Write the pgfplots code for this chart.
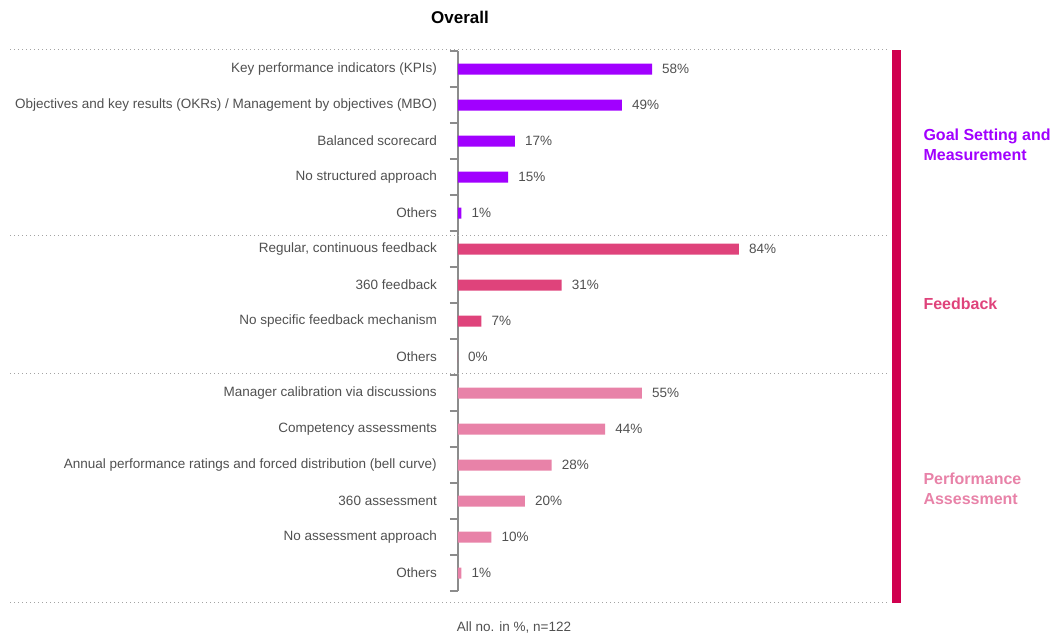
\documentclass[border=0pt]{standalone}
\usepackage{pgfplots}
\pgfplotsset{compat=1.18}
\usepackage{fontspec}
\setmainfont{Liberation Sans}
\definecolor{cpurple}{HTML}{A100FF}
\definecolor{cfeed}{HTML}{DF437B}
\definecolor{cperf}{HTML}{E882A8}
\definecolor{cred}{HTML}{D0004F}
\definecolor{ctext}{HTML}{505050}
\definecolor{caxis}{HTML}{8C8C8C}
\begin{document}
\begin{tikzpicture}
\path[use as bounding box] (0,0) rectangle (1061pt,634pt);
\begin{axis}[
  at={(458pt,43pt)}, anchor=south west,
  scale only axis, width=434.85pt, height=540pt,
  xmin=0, xmax=130, ymin=-0.5, ymax=14.5,
  y dir=reverse,
  axis x line=none, axis y line*=left,
  axis line style={caxis, line width=1.8pt},
  xbar, bar width=11pt, bar shift=0pt,
  clip=false,
  ytick={0,...,14},
  yticklabels={Key performance indicators (KPIs),
    Objectives and key results (OKRs) / Management by objectives (MBO),
    Balanced scorecard, No structured approach, Others,
    {Regular, continuous feedback}, 360 feedback, No specific feedback mechanism, Others,
    Manager calibration via discussions, Competency assessments,
    Annual performance ratings and forced distribution (bell curve),
    360 assessment, No assessment approach, Others},
  minor ytick={-0.5,0.5,...,14.5},
  tick align=outside,
  major tick length=0pt, minor tick length=8pt,
  minor tick style={caxis, line width=1.8pt},
  yticklabel style={text=ctext, font=\fontsize{13.5}{16}\selectfont, anchor=east, inner sep=0pt, xshift=-21pt},
  point meta=x,
  nodes near coords={\pgfmathprintnumber[assume math mode=true]{\pgfplotspointmeta}\%},
  nodes near coords style={anchor=west, inner sep=0pt, xshift=10pt, text=ctext, font=\fontsize{13.5}{16}\selectfont},
]
\addplot[draw=none, fill=cpurple] coordinates {(58,0) (49,1) (17,2) (15,3) (1,4)};
\addplot[draw=none, fill=cfeed] coordinates {(84,5) (31,6) (7,7) (0,8)};
\addplot[draw=none, fill=cperf] coordinates {(55,9) (44,10) (28,11) (20,12) (10,13) (1,14)};
\end{axis}
\foreach \yy in {584,398,260,31}{
  \draw[caxis!80, line width=1pt, dash pattern=on 1pt off 3pt] (10pt,\yy pt) -- (890pt,\yy pt);
}
\fill[cred] (892pt,31pt) rectangle (901pt,584pt);
\node[anchor=west, align=left, text=cpurple, font=\fontsize{16}{20}\selectfont\bfseries] at (920pt,489pt) {Goal Setting and\\Measurement};
\node[anchor=west, align=left, text=cfeed, font=\fontsize{16}{20}\selectfont\bfseries] at (920pt,330pt) {Feedback};
\node[anchor=west, align=left, text=cperf, font=\fontsize{16}{20}\selectfont\bfseries] at (920pt,145pt) {Performance\\Assessment};
\node[font=\fontsize{17}{20}\selectfont\bfseries] at (460pt,617pt) {Overall};
\node[text=ctext, font=\fontsize{13.5}{16}\selectfont] at (514pt,7pt) {All no. in \%, n=122};
\end{tikzpicture}
\end{document}
